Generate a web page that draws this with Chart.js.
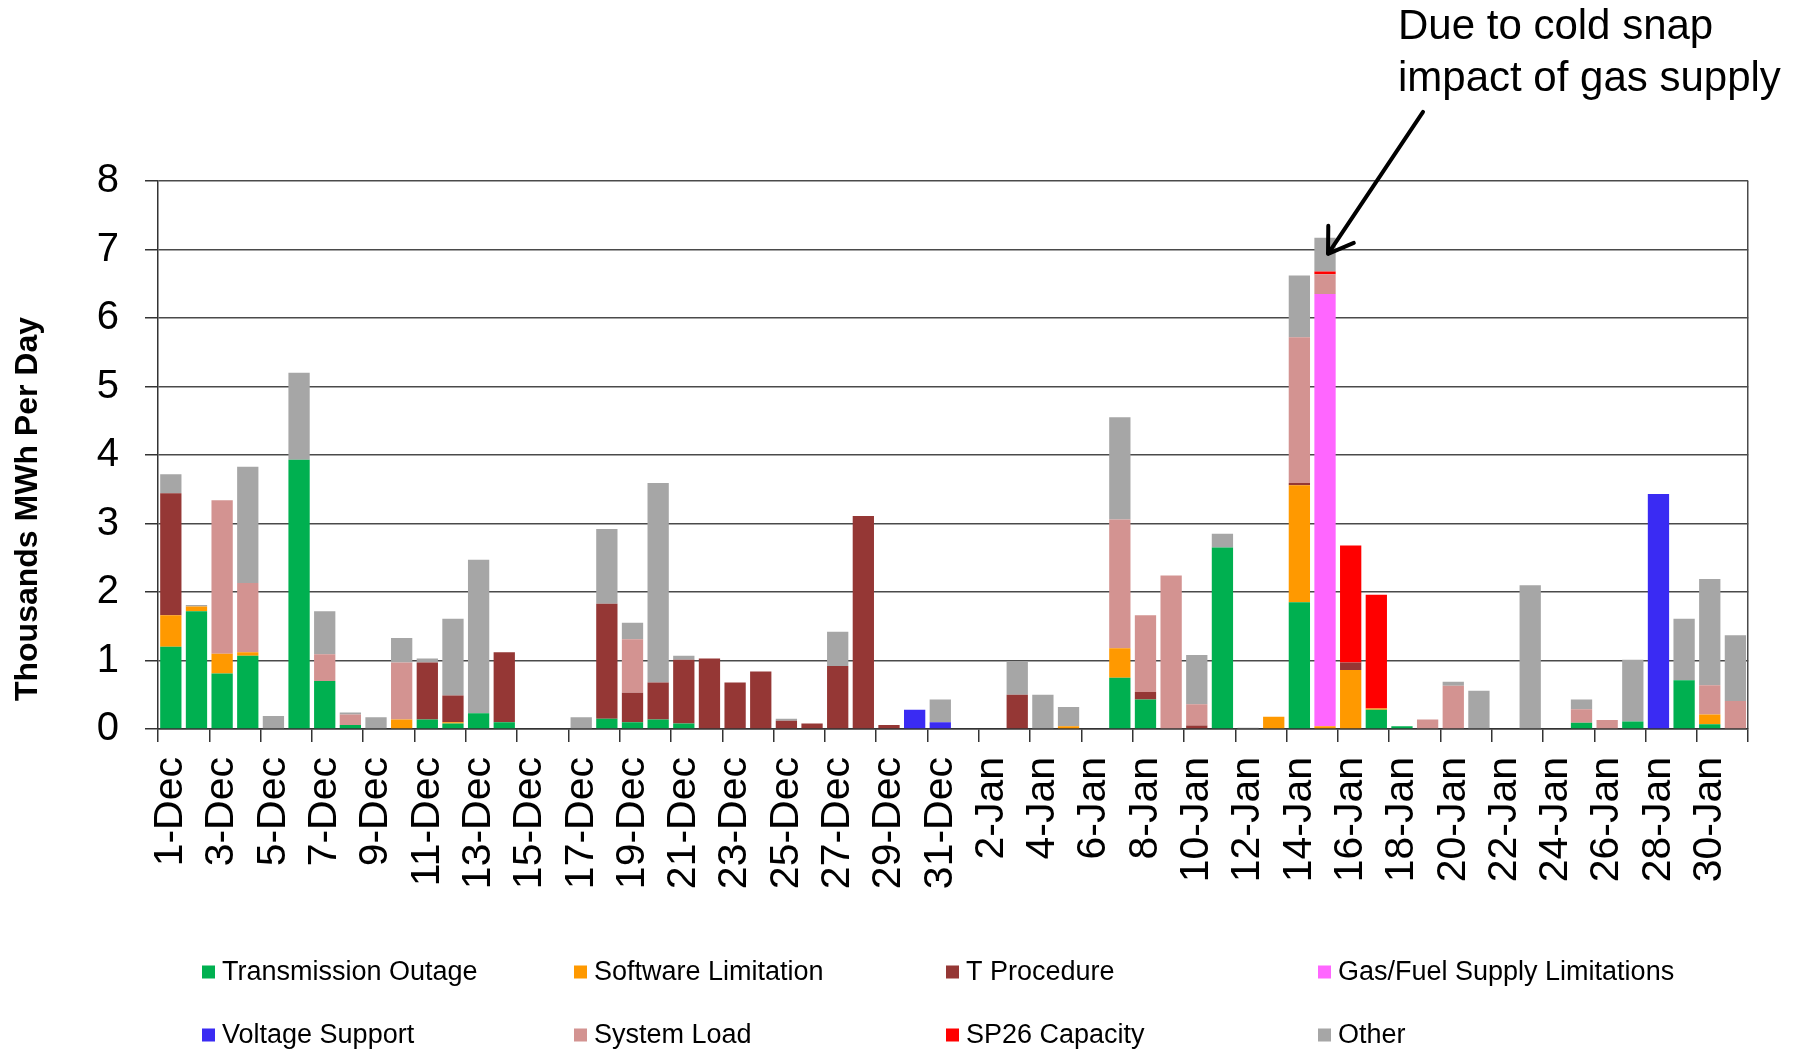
<!DOCTYPE html>
<html>
<head>
<meta charset="utf-8">
<script src="https://cdn.jsdelivr.net/npm/chart.js@4.4.1/dist/chart.umd.min.js"></script>
<style>
html,body{margin:0;padding:0;background:#fff;}
#wrap{width:1800px;height:1052px;position:relative;}
</style>
</head>
<body>
<div id="wrap"><canvas id="c" width="1800" height="1052"></canvas></div>
<script>
const categories = [
  '1-Dec','2-Dec','3-Dec','4-Dec','5-Dec','6-Dec','7-Dec','8-Dec','9-Dec','10-Dec',
  '11-Dec','12-Dec','13-Dec','14-Dec','15-Dec','16-Dec','17-Dec','18-Dec','19-Dec','20-Dec',
  '21-Dec','22-Dec','23-Dec','24-Dec','25-Dec','26-Dec','27-Dec','28-Dec','29-Dec','30-Dec',
  '31-Dec','1-Jan','2-Jan','3-Jan','4-Jan','5-Jan','6-Jan','7-Jan','8-Jan','9-Jan',
  '10-Jan','11-Jan','12-Jan','13-Jan','14-Jan','15-Jan','16-Jan','17-Jan','18-Jan','19-Jan',
  '20-Jan','21-Jan','22-Jan','23-Jan','24-Jan','25-Jan','26-Jan','27-Jan','28-Jan','29-Jan',
  '30-Jan','31-Jan'
];

const transmissionOutage = [
  1.20,1.72,0.81,1.07,0,3.93,0.70,0.06,0,0,
  0.14,0.08,0.23,0.10,0,0,0,0.15,0.10,0.14,
  0.08,0,0,0,0,0,0,0,0,0,
  0,0,0,0,0,0,0,0.75,0.43,0,
  0,2.65,0,0,1.85,0,0,0.28,0.04,0,
  0,0,0,0,0,0.09,0,0.11,0,0.71,
  0.07,0
];
const softwareLimitation = [
  0.46,0.07,0.29,0.05,0,0,0,0,0,0.14,
  0,0.02,0,0,0,0,0,0,0,0,
  0,0,0,0,0,0,0,0,0,0,
  0,0,0,0,0,0.04,0,0.43,0,0,
  0,0,0,0.18,1.71,0.04,0.86,0.02,0,0,
  0,0,0,0,0,0,0,0,0,0,
  0.14,0
];
const tProcedure = [
  1.78,0,0,0,0,0,0,0,0,0,
  0.83,0.39,0,1.02,0,0,0,1.68,0.43,0.54,
  0.93,1.03,0.68,0.84,0.12,0.08,0.92,3.11,0.06,0,
  0,0,0,0.50,0,0,0,0,0.11,0,
  0.05,0,0,0,0.03,0,0.11,0,0,0,
  0,0,0,0,0,0,0,0,0,0,
  0,0
];
const gasFuelSupply = [
  0,0,0,0,0,0,0,0,0,0,
  0,0,0,0,0,0,0,0,0,0,
  0,0,0,0,0,0,0,0,0,0,
  0,0,0,0,0,0,0,0,0,0,
  0,0,0,0,0,6.31,0,0,0,0,
  0,0,0,0,0,0,0,0,0,0,
  0,0
];
const voltageSupport = [
  0,0,0,0,0,0,0,0,0,0,
  0,0,0,0,0,0,0,0,0,0,
  0,0,0,0,0,0,0,0,0,0.28,
  0.10,0,0,0,0,0,0,0,0,0,
  0,0,0,0,0,0,0,0,0,0,
  0,0,0,0,0,0,0,0,3.43,0,
  0,0
];
const systemLoad = [
  0,0,2.24,1.01,0,0,0.39,0.15,0,0.83,
  0,0,0,0,0,0,0,0,0.78,0,
  0,0,0,0,0,0,0,0,0,0,
  0,0,0,0,0,0,0,1.88,1.12,2.24,
  0.31,0,0,0,2.13,0.29,0,0,0,0.14,
  0.63,0,0,0,0,0.20,0.13,0,0,0,
  0.43,0.41
];
const sp26Capacity = [
  0,0,0,0,0,0,0,0,0,0,
  0,0,0,0,0,0,0,0,0,0,
  0,0,0,0,0,0,0,0,0,0,
  0,0,0,0,0,0,0,0,0,0,
  0,0,0,0,0,0.04,1.71,1.66,0,0,
  0,0,0,0,0,0,0,0,0,0,
  0,0
];
const other = [
  0.28,0.02,0,1.70,0.19,1.27,0.63,0.03,0.17,0.36,
  0.06,1.12,2.24,0,0,0,0.17,1.09,0.24,2.91,
  0.06,0,0,0,0.03,0,0.50,0,0,0,
  0.33,0,0,0.49,0.50,0.28,0,1.49,0,0,
  0.72,0.20,0.02,0,0.90,0.49,0,0,0,0,
  0.06,0.56,0,2.10,0,0.14,0,0.90,0,0.90,
  1.55,0.96
];

const seriesNames = ['Transmission Outage','Software Limitation','T Procedure','Gas/Fuel Supply Limitations',
                     'Voltage Support','System Load','SP26 Capacity','Other'];
const seriesValues = [transmissionOutage, softwareLimitation, tProcedure, gasFuelSupply,
                      voltageSupport, systemLoad, sp26Capacity, other];
const seriesColors = ['#00B050','#FF9900','#953735','#FF66FF','#3A2BF3','#D39391','#FF0000','#A6A6A6'];

const yTickValues = [0,1,2,3,4,5,6,7,8];
const yTitle = 'Thousands MWh Per Day';
const noteLines = ['Due to cold snap','impact of gas supply'];
const noteCategory = '15-Jan';

const FONT = '"Liberation Sans", Arial, sans-serif';
Chart.defaults.font.family = FONT;
Chart.defaults.color = '#000';

const decor = {
  id: 'decor',
  afterDraw(chart) {
    const ctx = chart.ctx;
    // Y axis title
    ctx.save();
    ctx.translate(28, 509);
    ctx.rotate(-Math.PI / 2);
    ctx.font = 'bold 32px ' + FONT;
    ctx.fillStyle = '#000';
    ctx.textAlign = 'center';
    ctx.textBaseline = 'middle';
    ctx.fillText(yTitle, 0, 0);
    ctx.restore();

    // Legend (4 columns x 2 rows)
    const colX = [202, 574, 946, 1318];
    const rowY = [972, 1035];
    ctx.save();
    chart.data.datasets.forEach((ds, i) => {
      const x = colX[i % 4], y = rowY[Math.floor(i / 4)];
      ctx.fillStyle = ds.backgroundColor;
      ctx.fillRect(x, y - 6.5, 13, 13);
      ctx.fillStyle = '#000';
      ctx.font = '27px ' + FONT;
      ctx.textAlign = 'left';
      ctx.textBaseline = 'middle';
      ctx.fillText(ds.label, x + 20, y + 1);
    });
    ctx.restore();

    // Annotation + arrow
    const xs = chart.scales.x, ys = chart.scales.y;
    const idx = categories.indexOf(noteCategory);
    let total = 0;
    chart.data.datasets.forEach(ds => { total += ds.data[idx]; });
    const tx = xs.getPixelForValue(idx) + 3;
    const ty = ys.getPixelForValue(total) + 16;
    const sx = tx + 95, sy = ty - 142;
    ctx.save();
    ctx.strokeStyle = '#000';
    ctx.lineWidth = 4;
    ctx.lineCap = 'round';
    ctx.lineJoin = 'round';
    ctx.beginPath();
    ctx.moveTo(sx, sy);
    ctx.lineTo(tx, ty);
    const back = Math.atan2(sy - ty, sx - tx);
    const wl = 28;
    ctx.moveTo(tx + wl * Math.cos(back - 0.58), ty + wl * Math.sin(back - 0.58));
    ctx.lineTo(tx, ty);
    ctx.lineTo(tx + wl * Math.cos(back + 0.58), ty + wl * Math.sin(back + 0.58));
    ctx.stroke();
    ctx.fillStyle = '#000';
    ctx.font = '42px ' + FONT;
    ctx.textAlign = 'left';
    ctx.textBaseline = 'alphabetic';
    ctx.fillText(noteLines[0], 1398, 39);
    ctx.fillText(noteLines[1], 1398, 91);
    ctx.restore();
  }
};

new Chart(document.getElementById('c'), {
  type: 'bar',
  data: {
    labels: categories,
    datasets: seriesNames.map((n, i) => ({
      label: n,
      data: seriesValues[i],
      backgroundColor: seriesColors[i],
      borderWidth: 0,
      barPercentage: 1.0,
      categoryPercentage: 0.83
    }))
  },
  options: {
    responsive: false,
    animation: false,
    devicePixelRatio: 1,
    layout: { padding: { top: 181, right: 49, left: 0, bottom: 0 } },
    plugins: { legend: { display: false }, tooltip: { enabled: false }, title: { display: false } },
    scales: {
      x: {
        stacked: true,
        offset: true,
        afterFit(scale) { scale.height = 323; },
        grid: {
          offset: true,
          drawOnChartArea: true,
          drawTicks: true,
          tickLength: 13,
          lineWidth: 1.5,
          color: ctx => ctx.type === 'tick' ? 'rgba(0,0,0,0)' : '#4a4a4a',
          tickColor: ctx => (ctx.type !== 'tick' || ctx.index % 2 === 0) ? '#333' : 'rgba(0,0,0,0)'
        },
        border: { display: true, color: '#333', width: 1.5 },
        ticks: {
          autoSkip: false,
          maxRotation: 90,
          minRotation: 90,
          padding: 15,
          font: { size: 41 },
          color: '#000',
          callback: (v, i) => i % 2 === 0 ? categories[i] : ''
        }
      },
      y: {
        stacked: true,
        min: yTickValues[0],
        max: yTickValues[yTickValues.length - 1],
        afterFit(scale) { scale.width = 158; },
        afterBuildTicks(scale) { scale.ticks = yTickValues.map(v => ({ value: v })); },
        grid: {
          color: '#4a4a4a',
          lineWidth: 1.5,
          drawTicks: true,
          tickLength: 13,
          tickColor: '#333'
        },
        border: { display: true, color: '#333', width: 1.5 },
        ticks: {
          padding: 26,
          font: { size: 40 },
          color: '#000'
        }
      }
    }
  },
  plugins: [decor]
});
</script>
</body>
</html>
